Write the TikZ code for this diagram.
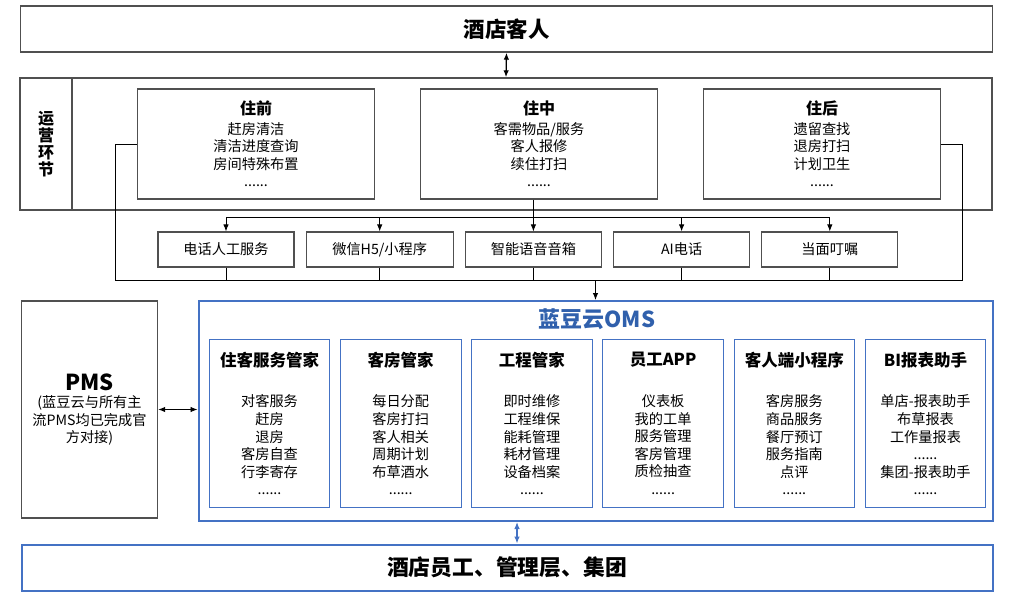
\documentclass[tikz,border=0pt]{standalone}
\usepackage{fontspec}
\setmainfont{Noto Sans CJK SC}
\usepackage{tikz}
\usetikzlibrary{positioning,arrows.meta}
\definecolor{frame}{HTML}{505050}
\definecolor{omsblue}{HTML}{4472C4}
\definecolor{omsdark}{HTML}{3060AC}
\newcommand{\stage}[2]{{\fontsize{16}{20}\selectfont\bfseries #1}\\[2pt]#2}
\newcommand{\module}[2]{{\fontsize{16.5}{20}\selectfont\bfseries #1}\\[23pt]#2}

\begin{document}
\begin{tikzpicture}[
    x=1pt, y=-1pt,
    >={Latex[length=7pt,width=5.5pt]},
    wire/.style={draw=black, line width=0.9pt},
    layer/.style={draw=frame, line width=1.4pt, minimum width=972pt},
    stagebox/.style={draw=frame, line width=1.3pt, minimum width=237pt, minimum height=110pt},
    channel/.style={draw=frame, line width=1.2pt, minimum width=136pt, minimum height=35pt},
    modbox/.style={draw=omsblue, line width=0.9pt, minimum width=120.5pt, minimum height=168pt},
    every node/.style={ align=center,
                        inner sep=0pt,
                        font=\fontsize{14.2}{17.6}\selectfont}]

    \useasboundingbox (0,0) rectangle (1024,597);

    % guests and operations
    \node[layer, minimum height=46pt, font=\fontsize{21.5}{24}\selectfont\bfseries] (guest) at (506.5,29) {酒店客人};
    \node[layer, minimum height=132pt] (ops) at (506,144) {};
    \node[draw=frame, line width=1.4pt, minimum width=52pt, minimum height=132pt,
          font=\fontsize{16}{16.8}\selectfont\bfseries] (opslabel) at (46,144) {运\\营\\环\\节};
    \draw[wire, line width=1.3pt, <->] (guest.south) -- (ops.north);

    \node[stagebox] (before) at (256,144) {\stage{住前}{赶房清洁\\清洁进度查询\\房间特殊布置\\......}};
    \node[stagebox, right=44.7pt of before] (during) {\stage{住中}{客需物品/服务\\客人报修\\续住打扫\\......}};
    \node[stagebox, right=44.7pt of during] (after) {\stage{住后}{遗留查找\\退房打扫\\计划卫生\\......}};

    % channels
    \node[channel] (phone) at (226,249.5) {电话人工服务};
    \node[channel, minimum width=147pt, right=11pt of phone] (wechat) {微信H5/小程序};
    \node[channel, right=11pt of wechat] (speaker) {智能语音音箱};
    \node[channel, right=11pt of speaker] (aicall) {AI电话};
    \node[channel, right=11pt of aicall] (inperson) {当面叮嘱};

    \coordinate (bus) at (0,217);
    \coordinate (low) at (0,280);
    \coordinate (lowL) at (115,280);
    \coordinate (lowR) at (962,280);

    \draw[wire] (during.south -| speaker) -- (bus -| speaker);
    \draw[wire] (bus -| phone) -- (bus -| inperson);
    \foreach \c in {phone,wechat,speaker,aicall,inperson} {
        \draw[wire, ->] (bus -| \c) -- (\c.north);
        \draw[wire] (\c.south) -- (low -| \c);
    }
    \draw[wire] (before.west) -| (lowL) -- (lowR) |- (after.east);

    % OMS
    \node[draw=omsblue, line width=2pt, minimum width=794pt, minimum height=220pt] (oms) at (595.5,411) {};
    \node[font=\fontsize{22}{24}\selectfont\bfseries, text=omsdark] (omstitle) at (597,319) {蓝豆云OMS};
    \draw[wire, ->] (low -| oms.north) -- (oms.north);

    \node[modbox] (m1) at (269.5,423.5) {\module{住客服务管家}{对客服务\\赶房\\退房\\客房自查\\行李寄存\\......}};
    \node[modbox, right=9.8pt of m1] (m2) {\module{客房管家}{每日分配\\客房打扫\\客人相关\\周期计划\\布草酒水\\......}};
    \node[modbox, right=9.8pt of m2] (m3) {\module{工程管家}{即时维修\\工程维保\\能耗管理\\耗材管理\\设备档案\\......}};
    \node[modbox, right=9.8pt of m3] (m4) {\module{员工APP}{仪表板\\我的工单\\服务管理\\客房管理\\质检抽查\\......}};
    \node[modbox, right=9.8pt of m4] (m5) {\module{客人端小程序}{客房服务\\商品服务\\餐厅预订\\服务指南\\点评\\......}};
    \node[modbox, right=9.8pt of m5] (m6) {\module{BI报表助手}{单店-报表助手\\布草报表\\工作量报表\\......\\集团-报表助手\\......}};

    % PMS
    \node[draw=frame, line width=1.4pt, minimum width=136pt, minimum height=217pt] (pms) at (89.5,409.5)
        {{\fontsize{22}{26}\selectfont\bfseries PMS}\\(蓝豆云与所有主\\流PMS均已完成官\\方对接)};
    \draw[wire, <->] (pms.east) -- (pms.east -| oms.west);

    % staff
    \node[draw=omsblue, line width=2pt, minimum width=971pt, minimum height=46pt,
          font=\fontsize{21.8}{24}\selectfont\bfseries] (staff) at (507,567.5) {酒店员工、管理层、集团};
    \draw[line width=1.2pt, draw=omsblue, <->] ([xshift=10pt]staff.north) -- ([xshift=10pt]staff.north |- oms.south);

\end{tikzpicture}
\end{document}
